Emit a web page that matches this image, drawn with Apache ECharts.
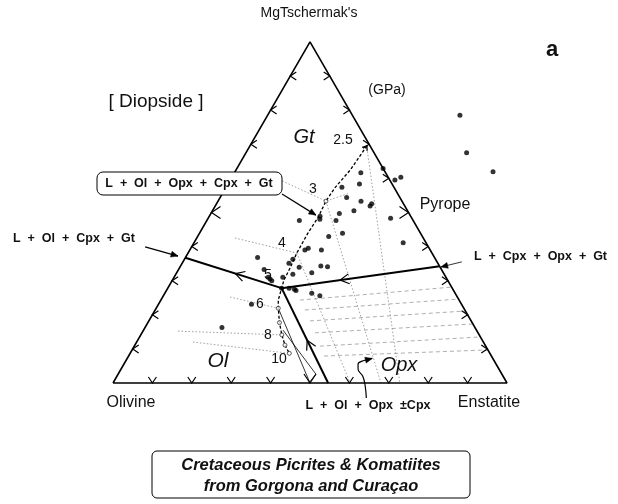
<!DOCTYPE html>
<html><head><meta charset="utf-8">
<script src="https://cdn.jsdelivr.net/npm/echarts@6/dist/echarts.min.js"></script>
<style>html,body{margin:0;padding:0;background:#fff}#c{width:618px;height:504px}</style>
</head><body><div id="c"></div>
<script>
// ---- data: ternary compositions given as [Enstatite %, MgTschermak's %] (Olivine = remainder)
const vertexNames = ['Olivine', 'Enstatite', "MgTschermak's"];
const vertices = [[0, 0], [100, 0], [0, 100], [0, 0]];
const edgeTicks = [10, 20, 30, 40, 50, 60, 70, 80, 90];
const invariantPoint = [28.9, 27.8];
const cotecticOlCpxGt = [[28.9, 27.8], [0, 36.7]];
const cotecticCpxOpxGt = [[65.8, 34.2], [28.9, 27.8]];
const cotecticOlOpx = [[54.6, 0], [28.9, 27.8]];
const pressureCurve = [[29.7, 69.5], [29.0, 62.4], [27.7, 57.2], [27.4, 53.3], [27.8, 48.4], [27.5, 44.0], [27.6, 38.1], [28.1, 33.7], [28.3, 30.2], [28.9, 27.8], [29.8, 24.3], [31.0, 21.9], [33.4, 17.7], [35.8, 14.1], [38.1, 11.1], [40.4, 8.7]];
const pressureMarks = [[27.4, 53.3], [31.0, 21.9], [33.4, 17.7], [35.8, 14.1], [38.1, 11.1], [40.4, 8.7]];
const pressureLabels = ['2.5', '3', '4', '5', '6', '8', '10'];
const thinSolid = [
  [[31.0, 21.9], [50.0, 0]],
  [[35.4, 15.5], [50.2, 2.6], [49.7, 0]]
];
const tieLines = [
  [[27.6, 38.1], [60.2, 0]],
  [[27.4, 53.3], [68.0, 0]],
  [[30.0, 68.9], [72.8, 0]],
  [[7.2, 61.8], [27.4, 53.3], [32.3, 55.7]],
  [[9.7, 42.5], [27.6, 38.1]],
  [[17.1, 25.2], [31.0, 21.9]],
  [[8.9, 15.2], [35.8, 14.1]],
  [[14.3, 12.0], [40.4, 8.7]]
];
const opxIsobars = [
  [[35.3, 24.3], [71.9, 28.1]],
  [[38.0, 21.4], [75.4, 24.6]],
  [[40.9, 18.2], [78.9, 21.1]],
  [[43.9, 14.7], [82.7, 17.3]],
  [[47.1, 10.8], [86.5, 13.5]],
  [[49.6, 7.9], [90.3, 9.7]]
];
const samples = [
  [48.8, 78.5], [56.0, 67.5], [65.5, 61.9], [37.1, 62.9], [41.8, 59.5], [42.9, 60.3],
  [32.1, 61.6], [33.4, 58.3], [29.4, 57.4], [32.1, 54.4], [36.3, 53.3], [39.3, 51.9],
  [39.4, 52.5], [35.9, 50.5], [32.6, 49.7], [32.8, 47.6], [28.1, 48.9], [28.5, 48.0],
  [23.5, 47.6], [46.3, 48.3], [36.3, 43.9], [33.3, 42.9], [53.1, 41.1], [29.2, 39.0],
  [29.8, 39.5], [33.4, 39.0], [18.3, 36.8], [27.5, 36.3], [27.1, 35.1], [30.3, 33.9],
  [34.3, 32.3], [35.6, 34.3], [37.4, 34.1], [21.7, 33.3], [24.6, 30.5], [25.3, 30.0],
  [23.9, 31.0], [29.7, 31.9], [27.6, 31.0], [30.8, 27.8], [32.9, 27.1], [32.3, 27.5],
  [37.3, 26.3], [39.7, 25.6], [23.6, 23.1], [19.5, 16.3], [28.9, 27.8]
];
const annotationArrows = [
  [[15.2, 55.4], [26.9, 49.2]],
  [[-11.8, 39.9], [-2.1, 37.2]],
  [[70.8, 35.5], [66.2, 34.0]],
  [[66.5, -4.4], [64.4, -0.8], [62.4, 2.0], [60.2, 4.0], [59.4, 5.6], [60.4, 6.6], [62.2, 7.2]]
];

// ---- conversion ternary -> triangle plane
const H = Math.sqrt(3) / 2;
const xy = p => [p[0] + p[1] / 2, p[1] * H];
const along = (a, b, f) => { const A = xy(a), B = xy(b); return [A[0] + (B[0] - A[0]) * f, A[1] + (B[1] - A[1]) * f]; };
const ang = (a, b) => { const A = xy(a), B = xy(b); return Math.atan2(B[1] - A[1], B[0] - A[0]) * 180 / Math.PI; };

// open chevrons: [x, y, angleDeg, length, halfWidth]
const chev = [];
edgeTicks.forEach(v => {
  const big = v === 50, L = big ? 9 : 6, W = big ? 6 : 4;
  chev.push([...xy([v, 0]), -90, L, W]);
  chev.push([...xy([0, v]), 180, L, W]);
  chev.push([...xy([100 - v, v]), 0, L, W]);
});
chev.push([...along(cotecticOlCpxGt[0], cotecticOlCpxGt[1], 0.48), ang(cotecticOlCpxGt[0], cotecticOlCpxGt[1]), 9, 5]);
chev.push([...along(cotecticCpxOpxGt[1], cotecticCpxOpxGt[0], 0.37), ang(cotecticCpxOpxGt[0], cotecticCpxOpxGt[1]), 9, 5]);
chev.push([...along(cotecticOlOpx[1], cotecticOlOpx[0], 0.55), ang(cotecticOlOpx[0], cotecticOlOpx[1]), 9, 5]);
chev.push([...xy(pressureCurve[0]), ang(pressureCurve[1], pressureCurve[0]), 4, 3]);

// filled arrow heads at the end of annotation arrows
const heads = annotationArrows.map(a => [...xy(a[a.length - 1]), ang(a[a.length - 2], a[a.length - 1]), 7, 3]);

const FF = '"Liberation Sans", Arial, Helvetica, sans-serif';
const base = { type: 'line', symbol: 'none', silent: true, animation: false, clip: false, z: 3 };
const series = [];
series.push(Object.assign({}, base, { data: vertices.map(xy), lineStyle: { color: '#000', width: 1.6 } }));
[cotecticOlCpxGt, cotecticCpxOpxGt, cotecticOlOpx].forEach(c =>
  series.push(Object.assign({}, base, { data: c.map(xy), lineStyle: { color: '#000', width: 2 } })));
series.push(Object.assign({}, base, { data: pressureCurve.map(xy), z: 4, lineStyle: { color: '#000', width: 1.3, type: [3, 2] } }));
thinSolid.forEach(c => series.push(Object.assign({}, base, { data: c.map(xy), lineStyle: { color: '#000', width: 0.8 } })));
tieLines.forEach(c => series.push(Object.assign({}, base, { data: c.map(xy), z: 2, lineStyle: { color: '#888', width: 0.8, type: [1.5, 2] } })));
opxIsobars.forEach(c => series.push(Object.assign({}, base, { data: c.map(xy), z: 2, lineStyle: { color: '#999', width: 0.8, type: [4, 3] } })));
annotationArrows.forEach((a, i) => series.push(Object.assign({}, base, { data: a.map(xy), z: 8, smooth: i === 3 ? 0.4 : false,
  lineStyle: { color: '#000', width: i === 2 ? 0.8 : 1.2 } })));
series.push({ type: 'scatter', data: samples.map(xy), symbolSize: 5, itemStyle: { color: '#000' }, silent: true, animation: false, clip: false, z: 6 });
series.push({ type: 'scatter', data: pressureMarks.map(xy), symbolSize: 4, itemStyle: { color: '#fff', borderColor: '#000', borderWidth: 0.8 }, silent: true, animation: false, clip: false, z: 7 });
const chevron = (api, fill) => {
  const c = api.coord([api.value(0), api.value(1)]);
  const a = api.value(2) * Math.PI / 180, L = api.value(3), W = api.value(4);
  const dx = Math.cos(a), dy = -Math.sin(a), nx = -dy, ny = dx;
  const pts = [[c[0] - dx * L + nx * W, c[1] - dy * L + ny * W], [c[0], c[1]], [c[0] - dx * L - nx * W, c[1] - dy * L - ny * W]];
  return fill
    ? { type: 'polygon', shape: { points: pts }, style: { fill: '#000', stroke: '#000', lineWidth: 0.5 } }
    : { type: 'polyline', shape: { points: pts }, style: { stroke: '#000', lineWidth: 1.2, fill: null } };
};
series.push({ type: 'custom', data: chev, encode: { x: 0, y: 1 }, silent: true, animation: false, clip: false, z: 5,
  renderItem: (p, api) => chevron(api, false) });
series.push({ type: 'custom', data: heads, encode: { x: 0, y: 1 }, silent: true, animation: false, clip: false, z: 9,
  renderItem: (p, api) => chevron(api, true) });

// pressure label placement (pixels)
const pLabelPos = [[343, 140], [313, 189], [282, 243], [268, 275], [260, 304], [268, 335], [279, 359]];
const txt = (text, x, y, font, align) => ({ type: 'text', z: 101, style: { text, x, y, font, fill: '#111', textAlign: align || 'center', textVerticalAlign: 'middle' } });
const graphic = [
  txt(vertexNames[2], 309, 13, '14px ' + FF),
  txt('a', 552, 50, 'bold 22px ' + FF),
  txt('[ Diopside ]', 156, 102, '19px ' + FF),
  txt('(GPa)', 387, 90, '14px ' + FF),
  txt('Gt', 304, 137, 'italic 20px ' + FF),
  txt('Pyrope', 445, 205, '16px ' + FF),
  txt('Ol', 218, 361, 'italic 21px ' + FF),
  txt('Opx', 399, 365, 'italic 20px ' + FF),
  txt(vertexNames[0], 131, 403, '16px ' + FF),
  txt(vertexNames[1], 489, 403, '16px ' + FF),
  txt('L  +  Ol  +  Opx  \u00b1Cpx', 368, 406, 'bold 12.5px ' + FF),
  txt('L  +  Ol  +  Cpx  +  Gt', 13, 239, 'bold 12.5px ' + FF, 'left'),
  txt('L  +  Cpx  +  Opx  +  Gt', 474, 257, 'bold 12.5px ' + FF, 'left'),
  { type: 'rect', z: 100, shape: { x: 97, y: 172, width: 185, height: 23, r: 6 }, style: { fill: '#fff', stroke: '#000', lineWidth: 1 } },
  txt('L  +  Ol  +  Opx  +  Cpx  +  Gt', 189, 183.5, 'bold 12.5px ' + FF),
  { type: 'rect', z: 100, shape: { x: 152, y: 451, width: 318, height: 47, r: 5 }, style: { fill: '#fff', stroke: '#000', lineWidth: 1 } },
  txt('Cretaceous Picrites & Komatiites', 311, 465, 'italic bold 16.5px ' + FF),
  txt('from Gorgona and Cura\u00e7ao', 311, 486, 'italic bold 16.5px ' + FF)
];
pressureLabels.forEach((t, i) => graphic.push(txt(t, pLabelPos[i][0], pLabelPos[i][1], '14px ' + FF)));

const chart = echarts.init(document.getElementById('c'), null, { renderer: 'canvas' });
chart.setOption({
  animation: false,
  backgroundColor: '#fff',
  grid: { left: 113, top: 43, width: 394, height: 340 },
  xAxis: { type: 'value', min: 0, max: 100, show: false },
  yAxis: { type: 'value', min: 0, max: 340 / 3.94, show: false },
  series,
  graphic
});
</script></body></html>
